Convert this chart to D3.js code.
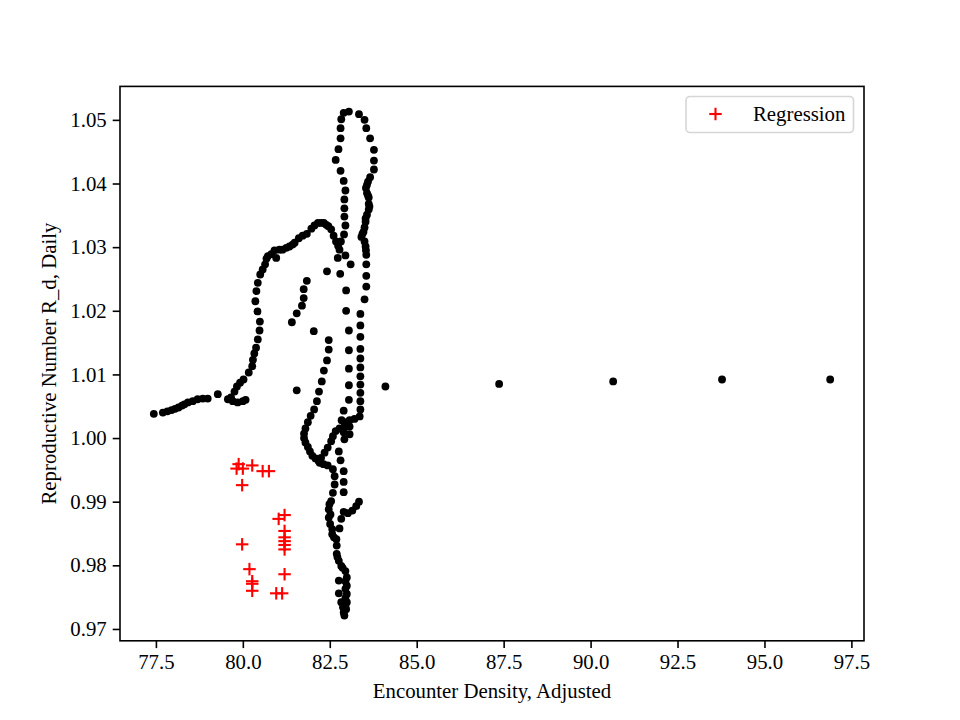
<!DOCTYPE html>
<html>
<head>
<meta charset="utf-8">
<script src="https://cdn.jsdelivr.net/npm/d3@7"></script>
<style>
  html, body { margin: 0; padding: 0; background: #ffffff; }
  svg { display: block; font-family: "Liberation Serif", "Times New Roman", serif; }
</style>
</head>
<body>
<svg id="chart" width="960" height="720"></svg>
<script>
// ---- Data ----
const densityX = [
  77.44, 77.70, 77.83, 77.95, 78.05, 78.15, 78.25, 78.32, 78.42, 78.56,
  78.70, 78.85, 78.99, 79.28, 79.57, 79.66, 79.71, 79.85, 80.00, 80.08,
  79.76, 79.83, 79.92, 80.02, 80.17, 80.27, 80.29, 80.33, 80.38, 80.43,
  80.48, 80.49, 80.42, 80.36, 80.39, 80.43, 80.50, 80.57, 80.64, 80.68,
  80.72, 80.82, 80.91, 80.96, 81.05, 81.14, 81.25, 81.34, 81.43, 81.49,
  81.61, 81.72, 81.84, 81.97, 82.06, 82.16, 82.25, 82.33, 82.40, 82.46,
  82.54, 82.61, 82.68, 82.74, 82.78, 82.73,
  81.84, 81.75, 81.75, 81.70, 81.55, 81.41,
  82.42, 82.80, 83.10, 82.95, 82.04, 81.55,
  84.10, 87.37, 90.65, 93.78, 96.89,
  83.05, 82.90, 82.83, 82.81, 82.81, 82.75, 82.67, 82.81, 82.90, 82.95,
  82.92, 82.92, 82.92, 82.95, 82.91, 82.82,
  83.34, 83.50, 83.55, 83.66, 83.77, 83.77, 83.77, 83.66, 83.60, 83.54,
  83.57, 83.62, 83.62, 83.62, 83.57, 83.53, 83.50, 83.44, 83.41, 83.50,
  83.53, 83.55, 83.55, 83.55, 83.55, 83.50, 83.38, 83.38, 83.38, 83.38,
  83.38, 83.38, 83.38, 83.38, 83.38, 83.38, 83.38, 83.36, 83.21, 83.07,
  82.92, 83.57, 83.60, 83.64, 83.53, 83.47, 83.54,
  82.97, 82.97, 83.05, 83.05, 83.05, 83.05, 83.05, 82.90, 82.84, 82.78,
  82.47, 82.47, 82.42, 82.33, 82.27, 82.19, 82.13, 82.05, 81.95, 81.87,
  81.80, 81.76, 81.76, 81.80, 81.87, 81.93, 82.00, 82.09, 82.18, 82.25,
  82.35, 82.44, 82.54, 82.59, 82.67, 82.92, 83.07, 83.07, 82.92, 82.90,
  82.76, 82.81, 82.90, 82.90, 82.90, 82.21, 82.32, 82.44, 82.59, 82.64,
  82.64, 82.59, 82.54, 82.47, 82.47, 82.51, 82.57, 82.57, 82.69, 82.70,
  82.70, 82.76, 82.83, 82.95, 82.99, 82.99, 82.99, 82.99, 82.97, 82.92,
  82.76, 82.76, 82.83, 82.88, 82.90, 83.34, 83.26, 83.15, 83.02, 82.90,
  82.83, 82.78, 82.49, 82.52, 82.62, 82.72, 82.87, 82.95, 82.95, 82.95,
  82.95
];
const rdY = [
  1.0038, 1.0040, 1.0042, 1.0044, 1.0046, 1.0048, 1.0051, 1.0053, 1.0056, 1.0058,
  1.0061, 1.0062, 1.0062, 1.0069, 1.0061, 1.0064, 1.0058, 1.0056, 1.0058, 1.0060,
  1.0073, 1.0081, 1.0087, 1.0092, 1.0103, 1.0113, 1.0123, 1.0133, 1.0142, 1.0155,
  1.0169, 1.0183, 1.0199, 1.0215, 1.0231, 1.0244, 1.0257, 1.0265, 1.0273, 1.0282,
  1.0286, 1.0289, 1.0295, 1.0283, 1.0296, 1.0296, 1.0299, 1.0301, 1.0304, 1.0307,
  1.0314, 1.0318, 1.0321, 1.0329, 1.0334, 1.0338, 1.0338, 1.0338, 1.0335, 1.0333,
  1.0328, 1.0318, 1.0309, 1.0302, 1.0296, 1.0283,
  1.0247, 1.0234, 1.0220, 1.0208, 1.0196, 1.0182,
  1.0262, 1.0258, 1.0273, 1.0287, 1.0168, 1.0075,
  1.0081, 1.0085, 1.0089, 1.0092, 1.0092,
  1.0513, 1.0511, 1.0501, 1.0487, 1.0471, 1.0454, 1.0437, 1.0420, 1.0404, 1.0389,
  1.0375, 1.0361, 1.0348, 1.0334, 1.0320, 1.0309,
  1.0509, 1.0500, 1.0487, 1.0471, 1.0453, 1.0436, 1.0422, 1.0410, 1.0403, 1.0393,
  1.0385, 1.0378, 1.0368, 1.0359, 1.0351, 1.0340, 1.0331, 1.0321, 1.0316, 1.0309,
  1.0301, 1.0288, 1.0273, 1.0255, 1.0238, 1.0218, 1.0195, 1.0177, 1.0159, 1.0140,
  1.0125, 1.0111, 1.0097, 1.0084, 1.0071, 1.0058, 1.0045, 1.0034, 1.0030, 1.0028,
  1.0025, 1.0398, 1.0381, 1.0364, 1.0345, 1.0324, 1.0295,
  1.0232, 1.0200, 1.0169, 1.0138, 1.0109, 1.0083, 1.0060, 1.0043, 1.0028, 1.0015,
  1.0154, 1.0139, 1.0122, 1.0106, 1.0089, 1.0073, 1.0058, 1.0045, 1.0035, 1.0025,
  1.0015, 1.0007, 1.0000, 0.9993, 0.9986, 0.9979, 0.9972, 0.9968, 0.9964, 0.9969,
  0.9977, 0.9985, 0.9995, 1.0003, 1.0011, 1.0016, 1.0006, 1.0018, 0.9998, 1.0009,
  0.9979, 0.9965, 0.9948, 0.9931, 0.9915, 0.9961, 0.9959, 0.9957, 0.9951, 0.9940,
  0.9927, 0.9914, 0.9901, 0.9888, 0.9875, 0.9865, 0.9857, 0.9849, 0.9841, 0.9831,
  0.9818, 0.9807, 0.9799, 0.9791, 0.9781, 0.9768, 0.9755, 0.9742, 0.9731, 0.9721,
  0.9776, 0.9756, 0.9742, 0.9734, 0.9726, 0.9900, 0.9893, 0.9886, 0.9882, 0.9884,
  0.9873, 0.9858, 0.9896, 0.9880, 0.9844, 0.9813, 0.9796, 0.9775, 0.9763, 0.9749,
  0.9736
];
const regX = [79.88, 79.82, 80.00, 80.27, 80.57, 80.75, 79.98, 81.20, 81.03, 81.20,
              81.20, 81.20, 81.20, 81.20, 79.98, 80.19, 80.27, 80.27, 80.27, 81.20,
              80.96, 81.13];
const regY = [0.9959, 0.9952, 0.9952, 0.9957, 0.9948, 0.9948, 0.9926, 0.9879, 0.9873, 0.9854,
              0.9844, 0.9838, 0.9832, 0.9825, 0.9833, 0.9794, 0.9775, 0.9771, 0.9760, 0.9786,
              0.9756, 0.9756];
const xTicks = [77.5, 80.0, 82.5, 85.0, 87.5, 90.0, 92.5, 95.0, 97.5];
const yTicks = [0.97, 0.98, 0.99, 1.00, 1.01, 1.02, 1.03, 1.04, 1.05];
const xLabel = "Encounter Density, Adjusted";
const yLabel = "Reproductive Number R_d, Daily";
const legendLabel = "Regression";

// ---- Layout ----
const plotL = 120, plotR = 864, plotT = 86.4, plotB = 640.8;
const FS = 20.8;

const svg = d3.select("#chart");

function padded(vals) {
  const mn = d3.min(vals), mx = d3.max(vals), m = (mx - mn) * 0.05;
  return [mn - m, mx + m];
}
const allX = densityX.concat(regX), allY = rdY.concat(regY);
const xScale = d3.scaleLinear().domain(padded(allX)).range([plotL, plotR]);
const yScale = d3.scaleLinear().domain(padded(allY)).range([plotB, plotT]);

// Black points
const pts = densityX.map((v, i) => ({ x: v, y: rdY[i] }));
svg.append("g").selectAll("circle").data(pts).join("circle")
  .attr("cx", d => xScale(d.x)).attr("cy", d => yScale(d.y)).attr("r", 3.9)
  .attr("fill", "#000");

// Red crosses
const crossSize = 6.25;
const reg = regX.map((v, i) => ({ x: v, y: regY[i] }));
const cg = svg.append("g").attr("stroke", "#ff0000").attr("stroke-width", 2.1);
reg.forEach(d => {
  const cx = xScale(d.x), cy = yScale(d.y);
  cg.append("line").attr("x1", cx - crossSize).attr("x2", cx + crossSize).attr("y1", cy).attr("y2", cy);
  cg.append("line").attr("x1", cx).attr("x2", cx).attr("y1", cy - crossSize).attr("y2", cy + crossSize);
});

// Axes
const xAxis = d3.axisBottom(xScale).tickValues(xTicks).tickFormat(d3.format(".1f"))
  .tickSize(7.3).tickSizeOuter(0).tickPadding(6);
const yAxis = d3.axisLeft(yScale).tickValues(yTicks).tickFormat(d3.format(".2f"))
  .tickSize(7.3).tickSizeOuter(0).tickPadding(6);

const gx = svg.append("g").attr("transform", `translate(0,${plotB})`).call(xAxis);
const gy = svg.append("g").attr("transform", `translate(${plotL},0)`).call(yAxis);
[gx, gy].forEach(g => {
  g.select(".domain").remove();
  g.selectAll(".tick line").attr("stroke", "#000").attr("stroke-width", 1.6);
  g.selectAll(".tick text").attr("fill", "#000")
    .style("font-family", "'Liberation Serif', 'Times New Roman', serif")
    .style("font-size", FS + "px");
});

// Frame
svg.append("rect").attr("x", plotL).attr("y", plotT)
  .attr("width", plotR - plotL).attr("height", plotB - plotT)
  .attr("fill", "none").attr("stroke", "#000").attr("stroke-width", 1.6);

// Axis labels
svg.append("text").attr("x", (plotL + plotR) / 2).attr("y", 698)
  .attr("text-anchor", "middle").style("font-size", FS + "px").attr("fill", "#000")
  .text(xLabel);
svg.append("text")
  .attr("transform", `translate(56,${(plotT + plotB) / 2}) rotate(-90)`)
  .attr("text-anchor", "middle").style("font-size", FS + "px").attr("fill", "#000")
  .text(yLabel);

// Legend
const lg = svg.append("g");
lg.append("rect").attr("x", 686).attr("y", 96.5).attr("width", 167.5).attr("height", 36)
  .attr("rx", 4).attr("ry", 4)
  .attr("fill", "#ffffff").attr("fill-opacity", 0.8)
  .attr("stroke", "#d6d6d6").attr("stroke-width", 1.6);
const lx = 715.5, ly = 114;
lg.append("line").attr("x1", lx - crossSize).attr("x2", lx + crossSize).attr("y1", ly).attr("y2", ly)
  .attr("stroke", "#ff0000").attr("stroke-width", 2.1);
lg.append("line").attr("x1", lx).attr("x2", lx).attr("y1", ly - crossSize).attr("y2", ly + crossSize)
  .attr("stroke", "#ff0000").attr("stroke-width", 2.1);
lg.append("text").attr("x", 753).attr("y", 120.5).style("font-size", FS + "px").attr("fill", "#000")
  .text(legendLabel);
</script>
</body>
</html>
